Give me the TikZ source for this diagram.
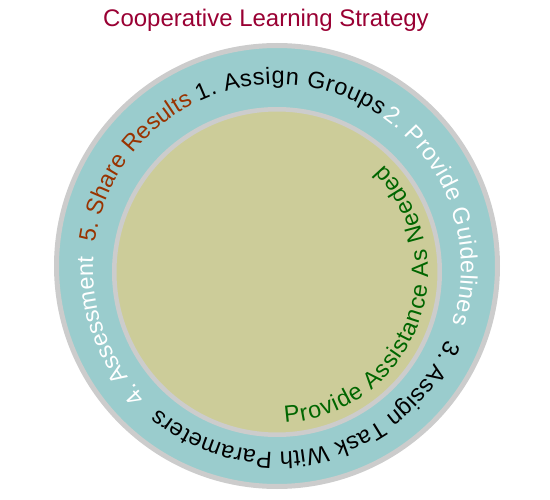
\documentclass[tikz,border=0pt]{standalone}
\usepackage{fontspec}
\setmainfont{Liberation Sans}
\usetikzlibrary{decorations.text}
\definecolor{ringteal}{HTML}{9ACCCD}
\definecolor{coreolive}{HTML}{CCCC99}
\definecolor{rimgray}{HTML}{CCCCCC}
\definecolor{titlered}{HTML}{990033}
\definecolor{stepgreen}{HTML}{006600}
\definecolor{steprust}{HTML}{993300}
\newcommand\ringfont{\fontsize{23.5}{27}\selectfont}

\begin{document}
\begin{tikzpicture}[x=1pt, y=1pt,
  rim/.style = {draw=rimgray},
  ringtext/.style 2 args = {decorate, decoration = {text along path,
      text color=#1, text align=fit to path, text={|\ringfont|#2}}}
  ]
  \useasboundingbox (0,0) rectangle (550,-500);
  \node[text=titlered, font=\fontsize{24}{28}\selectfont, anchor=base] (title) at (266,-27) {Cooperative Learning Strategy};
  % rings
  \coordinate (outer) at (277,-266);
  \coordinate (inner) at (277,-272);
  \coordinate (words) at (277,-268);
  \draw[rim, line width=5pt, fill=ringteal] (outer) circle[radius=220.5];
  \draw[rim, line width=4.5pt, fill=coreolive] (inner) circle[radius=162.75];
  % steps, clockwise round the ring
  \path[ringtext={black}{1. Assign Groups}] (words) ++(115:184) arc[start angle=115, end angle=56, radius=184];
  \path[ringtext={white}{2. Provide Guidelines}] (words) ++(55:184) arc[start angle=55, end angle=-17.5, radius=184];
  \path[ringtext={black}{3. Assign Task With Parameters}] (words) ++(-23:184) arc[start angle=-23, end angle=-130, radius=184];
  \path[ringtext={white}{4. Assessment}] (words) ++(-135.4:184) arc[start angle=-135.4, end angle=-182.5, radius=184];
  \path[ringtext={steprust}{5. Share Results}] (words) ++(172:184) arc[start angle=172, end angle=117, radius=184];
  % middle
  \path[ringtext={stepgreen}{Provide Assistance As Needed}] (inner) ++(-87:151) arc[start angle=-87, end angle=45, radius=151];
\end{tikzpicture}
\end{document}
